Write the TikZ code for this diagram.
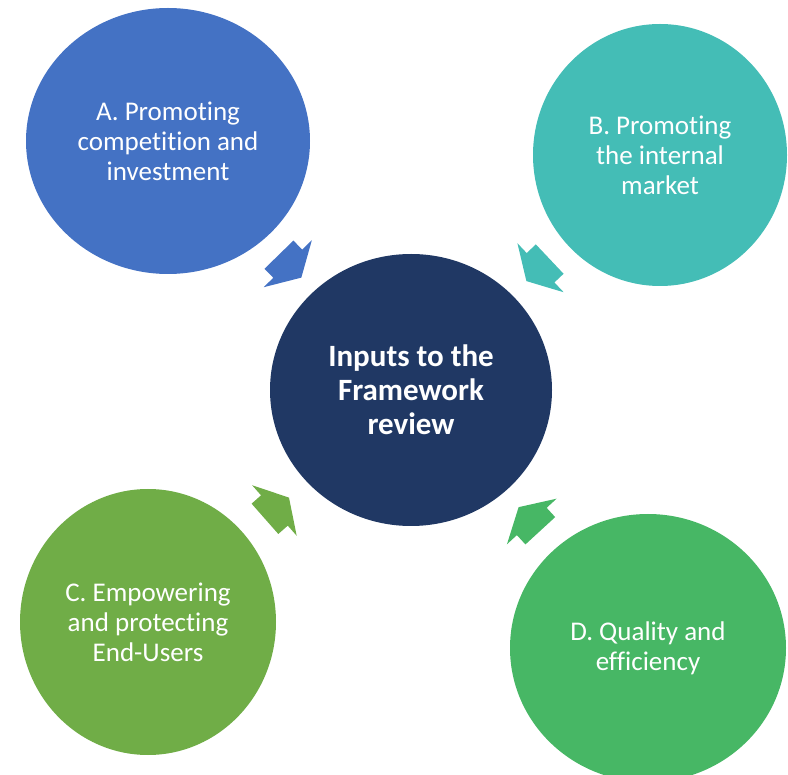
\documentclass[tikz,border=0pt]{standalone}
\usepackage{fontspec}
\setmainfont{Carlito}[Ligatures=NoCommon]
\usetikzlibrary{shapes.geometric,shapes.arrows}
\definecolor{compblue}{HTML}{4472C4}
\definecolor{markteal}{HTML}{44BDB6}
\definecolor{usergreen}{HTML}{70AD47}
\definecolor{qualgreen}{HTML}{47B765}
\definecolor{hubnavy}{HTML}{203864}

\begin{document}
\begin{tikzpicture}[x=1pt, y=-1pt,
  topic/.style={ellipse, inner sep=0pt, text=white, align=center, font=\fontsize{27}{30}\selectfont},
  inarrow/.style={single arrow, draw=none, fill=#1, inner sep=0pt, minimum size=0pt, single arrow head extend=13.5pt, single arrow tip angle=120, pos=0.44, sloped, allow upside down}]
\useasboundingbox (0,0) rectangle (788,775);
\node[topic, fill=compblue, minimum width=284pt, minimum height=266pt] (compet) at (168,141) {A. Promoting\\competition and\\investment};
\node[topic, fill=markteal, minimum width=254pt, minimum height=262pt] (market) at (660,155) {B. Promoting\\the internal\\market};
\node[topic, fill=usergreen, minimum width=256pt, minimum height=266pt] (users) at (148,622) {C. Empowering\\and protecting\\End-Users};
\node[topic, fill=qualgreen, minimum width=276pt, minimum height=268pt] (quality) at (648,648) {D. Quality and\\efficiency};
\node[topic, fill=hubnavy, minimum width=282pt, minimum height=272pt, font=\bfseries\fontsize{31}{34}\selectfont] (hub) at (411,390) {Inputs to the\\Framework\\review};
\path (compet) -- node[inarrow=compblue] {\phantom{\rule[-20pt]{20pt}{40pt}}} (hub);
\path (market) -- node[inarrow=markteal] {\phantom{\rule[-20pt]{20pt}{40pt}}} (hub);
\path (users) -- node[inarrow=usergreen] {\phantom{\rule[-20pt]{20pt}{40pt}}} (hub);
\path (quality) -- node[inarrow=qualgreen] {\phantom{\rule[-20pt]{20pt}{40pt}}} (hub);
\end{tikzpicture}
\end{document}
